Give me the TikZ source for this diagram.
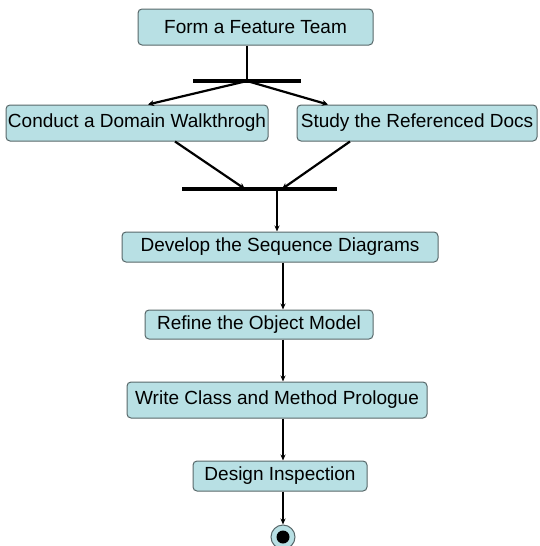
\documentclass[tikz,border=0pt]{standalone}
\usepackage{fontspec}
\setmainfont{Liberation Sans}
\usetikzlibrary{positioning, arrows.meta, calc}
\definecolor{Cact}{RGB}{184,224,228}
\definecolor{Cbdr}{RGB}{88,104,106}
\tikzset{
  act/.style={draw=Cbdr, fill=Cact, rounded corners=4pt, line width=1pt,
    minimum height=#1, inner sep=1pt,
    font=\fontsize{19}{21}\selectfont},
  bar/.style={fill=black, draw=none, minimum height=3.2pt,
    inner sep=0pt, minimum width=#1},
  ln/.style={line width=2.4pt, color=black},
  a/.style={-{Stealth[length=6pt,width=6pt]}, line width=2.2pt, color=black},
  av/.style={-{Stealth[length=6pt,width=5pt]}, line width=1.8pt, color=black}
}

\begin{document}
\begin{tikzpicture}[x=1pt, y=-1pt]
\useasboundingbox (0,0) rectangle (540,546);

% activities, top to bottom
\node[act=36pt, minimum width=235pt] (Nteam) at (255.5, 27) {Form a Feature Team};
\node[bar=108pt] (Fork) at (247, 81) {};

\node[act=36pt, minimum width=262pt] (Nwalk) at (137, 123) {Conduct a Domain Walkthrogh};
\node[act=36pt, minimum width=240pt] (Ndocs) at (417, 123) {Study the Referenced Docs};

\node[bar=155pt] (Join) at (259.5, 189) {};

\node[act=30pt, minimum width=316pt] (Nseq)  at (280, 247)   {Develop the Sequence Diagrams};
\node[act=29pt, minimum width=228pt] (Nobj)  at (259, 324.5) {Refine the Object Model};
\node[act=36pt, minimum width=300pt] (Nprol) at (277, 400)   {Write Class and Method Prologue};
\node[act=30pt, minimum width=174pt] (Ninsp) at (280, 476)   {Design Inspection};

% final state
\node[circle, draw=Cbdr, fill=Cact, line width=1pt, minimum size=24pt,
      inner sep=0pt] (End) at (283, 537) {};
\fill[black] (End.center) circle (6.5pt);

% fork / join points
\coordinate (Jout) at (277, 189);
\coordinate (JinL) at (245, 189);
\coordinate (JinR) at (282, 189);

\draw[ln] (Nteam.south -| Fork) -- (Fork.center);
\draw[a] (Fork.center) -- ($(Nwalk.north)+(11,0)$);
\draw[a] (Fork.center) -- ($(Ndocs.north)+(-89,0)$);
\draw[a] ($(Nwalk.south)+(38,0)$) -- (JinL);
\draw[a] ($(Ndocs.south)+(-67,0)$) -- (JinR);
\draw[av] (Jout) -- (Jout |- Nseq.north);

% sequence
\draw[av] (Nseq.south -| End) -- (Nobj.north -| End);
\draw[av] (Nobj.south -| End) -- (Nprol.north -| End);
\draw[av] (Nprol.south -| End) -- (Ninsp.north -| End);
\draw[av] (Ninsp.south -| End) -- (End.north);

\end{tikzpicture}
\end{document}
